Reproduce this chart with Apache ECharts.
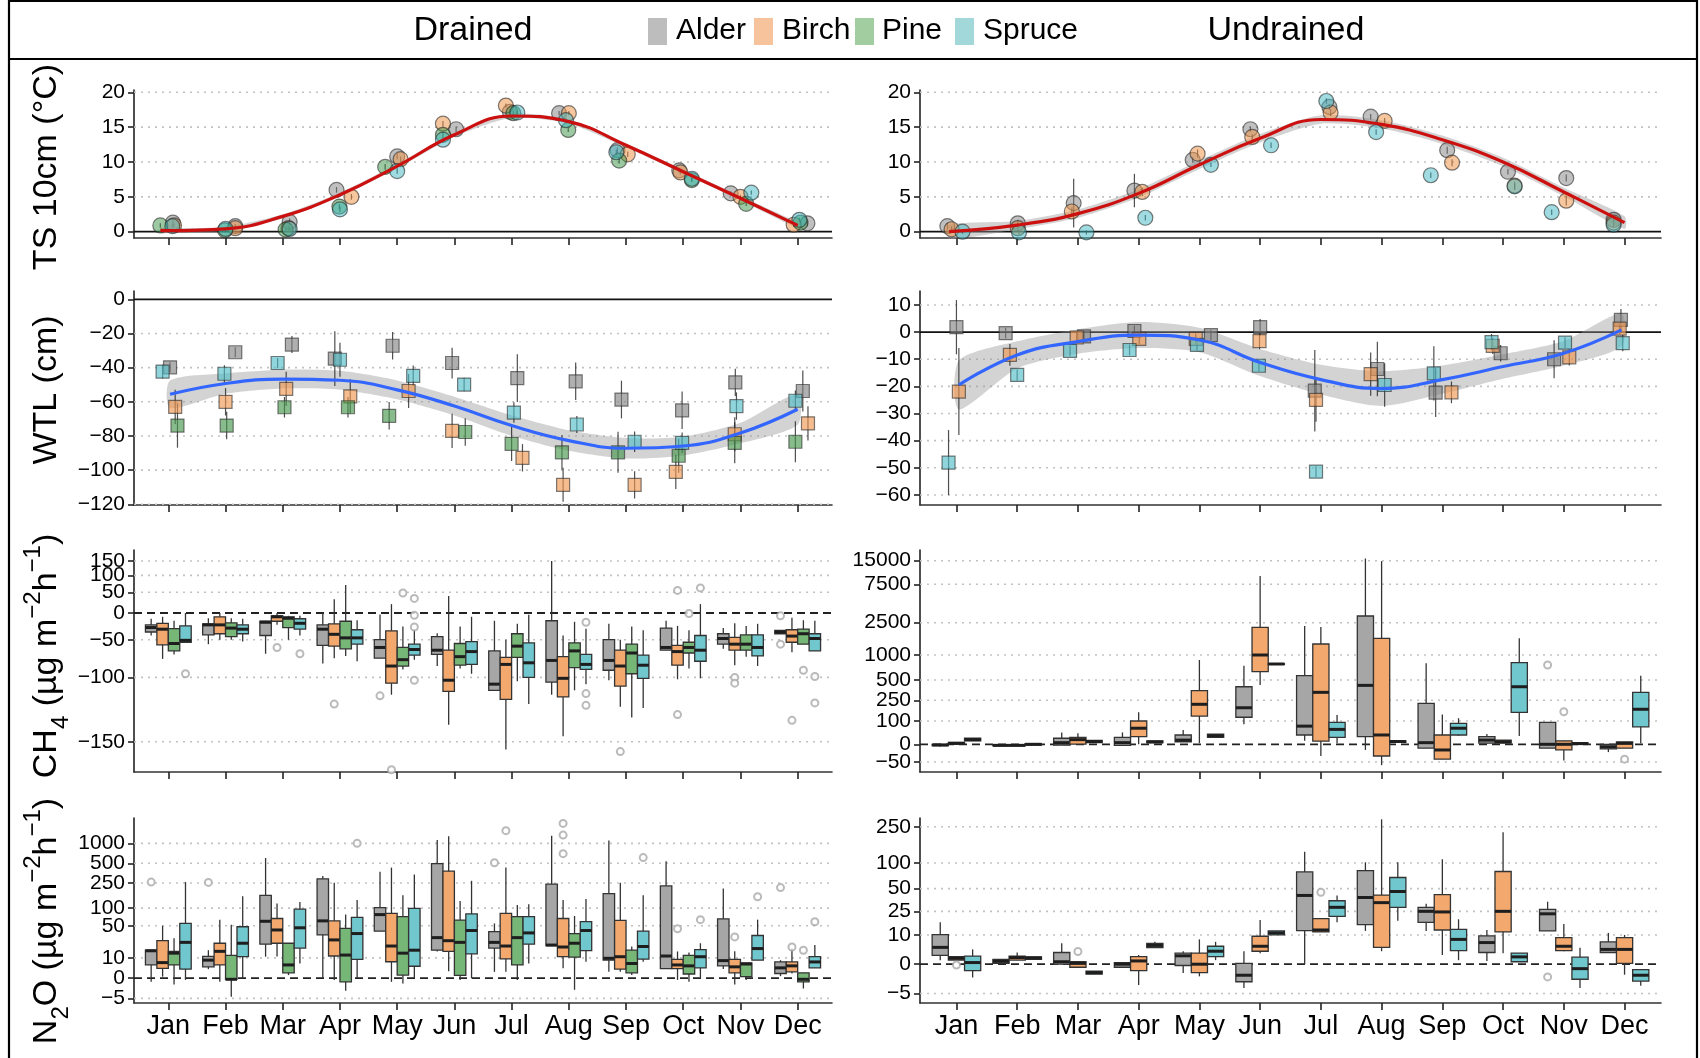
<!DOCTYPE html>
<html><head><meta charset="utf-8">
<script src="https://cdn.jsdelivr.net/npm/echarts@6/dist/echarts.min.js"></script>
<style>html,body{margin:0;padding:0;background:#fff}#c{width:1700px;height:1058px}</style>
</head><body><div id="c"></div><script>
// ---------------- DATA ----------------
const MONTHS = ['Jan','Feb','Mar','Apr','May','Jun','Jul','Aug','Sep','Oct','Nov','Dec'];
const MONTH_POS = [1,2,3,4,5,6,7,8,9,10,11,12];

// tick labels per panel
const TS_TICKS = [0,5,10,15,20];
const WTLD_TICKS = [0,-20,-40,-60,-80,-100,-120];
const WTLU_TICKS = [10,0,-10,-20,-30,-40,-50,-60];
const CH4D_TICKS = [150,100,50,0,-50,-100,-150];
const CH4U_TICKS = [15000,7500,2500,1000,500,250,100,0,-50];
const N2OD_TICKS = [1000,500,250,100,50,10,0,-5];
const N2OU_TICKS = [250,100,50,25,10,0,-5];

// Soil temperature 10 cm, drained: [decimal month, °C]
const tsD_Alder  = [[1.08,1.3],[2.17,0.8],[3.12,1.4],[3.94,6.0],[5.0,10.8],[6.03,14.7],[6.97,17.2],[7.83,17.0],[8.85,11.7],[9.93,8.8],[10.83,5.5],[12.17,1.2]];
const tsD_Birch  = [[1.1,0.9],[2.17,0.5],[3.1,0.5],[4.2,5.0],[5.06,10.4],[5.8,15.5],[6.9,18.1],[8.0,17.0],[9.03,11.1],[9.95,8.5],[11.0,5.0],[11.93,1.0]];
const tsD_Pine   = [[0.86,0.9],[1.99,0.2],[3.05,0.3],[3.99,3.6],[4.79,9.3],[5.8,13.9],[7.03,17.0],[7.99,14.6],[8.88,10.2],[10.15,7.4],[11.1,4.0],[12.05,1.3]];
const tsD_Spruce = [[1.07,0.8],[2.0,0.4],[3.12,0.4],[4.0,3.2],[5.0,8.7],[5.8,13.2],[7.1,17.1],[7.95,16.0],[8.83,11.4],[10.15,7.6],[11.19,5.6],[12.03,1.7]];
const tsD_errAlder  = [0.4,0.3,0.5,0.4,0.4,0.4,0.3,0.3,0.4,0.3,0.3,0.3];
const tsD_errBirch  = [0.3,0.3,0.3,0.4,0.4,0.4,0.3,0.3,0.4,0.3,0.3,0.3];
const tsD_errPine   = [0.3,0.3,0.3,0.4,0.4,0.4,0.3,0.3,0.4,0.3,0.3,0.3];
const tsD_errSpruce = [0.3,0.3,0.3,0.4,0.4,0.4,0.3,0.3,0.4,0.3,0.3,0.3];
const tsD_fit   = [[0.86,0.2],[1,0.15],[2,0.4],[3,2.2],[4,5.3],[5,9.4],[6,13.9],[7,16.6],[8,15.8],[9,12.4],[10,8.6],[11,4.8],[12,0.9]];
const tsD_fitSE = [0.4,0.35,0.3,0.3,0.3,0.3,0.3,0.3,0.3,0.3,0.3,0.3,0.4];

// Soil temperature, undrained
const tsU_Alder  = [[0.85,0.8],[2.01,1.2],[2.93,4.1],[3.93,5.9],[4.89,10.3],[5.84,14.7],[7.14,17.9],[7.82,16.5],[9.08,11.7],[10.08,8.6],[11.04,7.7],[11.82,1.7]];
const tsU_Birch  = [[0.92,0.35],[2.01,0.5],[2.9,2.9],[4.06,5.7],[4.97,11.2],[5.87,13.6],[7.16,17.1],[8.05,15.9],[9.16,9.9],[10.19,6.6],[11.04,4.45],[11.82,1.3]];
const tsU_Spruce = [[1.1,0.0],[2.03,-0.1],[3.14,-0.1],[4.11,2.0],[5.19,9.6],[6.18,12.4],[7.09,18.75],[7.91,14.3],[8.81,8.1],[10.19,6.5],[10.8,2.8],[11.82,1.0]];
const tsU_errAlder  = [0.5,0.5,3.5,2.4,0.4,0.4,0.4,0.4,0.5,0.4,0.5,0.4];
const tsU_errBirch  = [0.4,0.4,0.6,0.6,0.6,0.4,0.5,0.4,0.5,0.6,0.7,0.4];
const tsU_errSpruce = [0.3,0.3,0.3,0.4,0.3,0.4,0.4,0.4,0.4,0.4,0.4,0.3];
const tsU_fit   = [[0.88,0.0],[2,0.95],[3,2.6],[4,5.5],[5,9.6],[6,13.4],[7,16.1],[8,15.4],[9,13.2],[10,10.0],[11,5.7],[12,1.3]];
const tsU_fitSE = [1.0,0.6,0.6,0.6,0.6,0.6,0.6,0.6,0.6,0.6,0.6,0.9];

// Water table level, drained: [decimal month, cm]
const wtlD_Alder  = [[1.03,-39.8],[2.17,-31],[3.16,-26.5],[3.91,-34.7],[4.92,-27.2],[5.96,-37.3],[7.1,-46.1],[8.12,-48],[8.92,-58.7],[9.98,-65],[10.91,-48.6],[12.09,-53.7]];
const wtlD_Birch  = [[1.12,-63],[2.0,-60],[3.06,-52.4],[4.18,-56.8],[5.2,-53.7],[5.96,-77],[7.19,-92.8],[7.9,-108.6],[9.15,-108.6],[9.87,-101],[10.9,-79],[12.18,-72.6]];
const wtlD_Pine   = [[1.16,-73.9],[2.02,-73.9],[3.03,-63.2],[4.14,-63.2],[4.86,-68.2],[6.19,-77.7],[7.0,-84.6],[7.88,-89.6],[8.86,-89.6],[9.92,-91.6],[10.9,-84],[11.96,-83.4]];
const wtlD_Spruce = [[0.9,-42.3],[1.98,-43.6],[2.91,-37.3],[4.0,-35.4],[5.28,-44.8],[6.17,-49.9],[7.04,-66.3],[8.14,-73.3],[9.15,-83.4],[9.98,-84],[10.93,-62.5],[11.96,-59.4]];
const wtlD_errAlder  = [3,3,5,16,8,9,14,11,11,11,8,12];
const wtlD_errBirch  = [10,8,10,10,10,10,8,10,8,10,10,10];
const wtlD_errPine   = [13,8,6,6,8,8,10,10,12,10,12,12];
const wtlD_errSpruce = [4,5,3,10,6,4,6,5,6,6,8,6];
const wtlD_fit   = [[1.03,-55.6],[2,-49.3],[3,-46.7],[4,-47.4],[5,-53],[6,-62.5],[7,-73.9],[8,-82.7],[9,-87.2],[10,-85.9],[11,-78.3],[12,-64.4]];
const wtlD_fitSE = [8,6,5.5,5.5,5.5,5.5,6,6,6,5.5,6,9];

// Water table level, undrained
const wtlU_Alder  = [[1.0,1.8],[1.81,-0.4],[3.1,-1.6],[3.93,0.4],[5.19,-1.1],[6.0,1.8],[6.9,-21.6],[7.93,-13.6],[8.89,-22.3],[9.96,-7.8],[10.84,-10],[11.94,4.5]];
const wtlU_Birch  = [[1.04,-21.9],[1.88,-8.4],[2.98,-2],[4.01,-2.5],[4.94,-2.5],[5.99,-3.3],[6.92,-25],[7.82,-15.5],[9.15,-22.2],[9.83,-5.1],[11.09,-9.3],[11.92,1.3]];
const wtlU_Spruce = [[0.87,-48.1],[2.0,-15.8],[2.87,-6.9],[3.85,-6.6],[4.96,-4.7],[5.98,-12.4],[6.92,-51.4],[8.05,-19.5],[8.86,-15.2],[9.81,-3.7],[11.02,-3.9],[11.97,-4.1]];
const wtlU_errAlder  = [10,2,2,2,2,3,15,10,9,3,7,4];
const wtlU_errBirch  = [16,4,2,2,2,3,8,8,4,3,3,2];
const wtlU_errSpruce = [12,2,2,2,2,2,2,8,10,3,2,3];
const wtlU_fit   = [[1.04,-19.5],[2,-8.4],[3,-3.5],[4,-1.1],[5,-2.9],[6,-11.2],[7,-17.5],[8,-20.8],[9,-17.5],[10,-12.7],[11,-7.8],[11.95,0.8]];
const wtlU_fitSE = [9,5,4.5,4.8,4.5,5,5.5,6.4,5.2,4.5,4.5,6];

// CH4 flux boxplots, drained: per month [min, q1, median, q3, max]
const ch4D_Alder  = [[-43,-37,-29,-24,-12],[-57,-42,-24,-22,-11],[-71,-43,-19,-17,-16],[-84,-59,-32,-24,0],[-77,-77,-62,-50,-3],[-87,-72,-66,-45,-39],[-113,-113,-107,-67,-16],[-117,-105,-80,-16,150],[-103,-92,-80,-50,-22],[-66,-66,-62,-30,-16],[-64,-57,-48,-40,-30],[-40,-40,-37,-34,-34]];
const ch4D_Birch  = [[-78,-58,-32,-21,-8],[-50,-40,-24,-8,0],[-24,-17,-8,-6,0],[-77,-60,-41,-22,32],[-117,-106,-87,-35,20],[-140,-114,-103,-66,40],[-154,-121,-85,-76,-50],[-147,-119,-101,-75,-43],[-127,-109,-87,-66,-50],[-102,-86,-68,-59,-26],[-86,-66,-57,-46,-21],[-69,-54,-44,-33,-10]];
const ch4D_Pine   = [[-72,-67,-56,-31,-16],[-50,-45,-30,-20,-11],[-50,-29,-11,-8,-6],[-74,-64,-47,-17,70],[-91,-87,-79,-62,-27],[-90,-86,-75,-56,-27],[-104,-76,-60,-40,-22],[-113,-89,-67,-55,-18],[-135,-96,-70,-57,-27],[-90,-70,-62,-54,-34],[-75,-66,-57,-42,-26],[-57,-57,-40,-32,-15]];
const ch4D_Spruce = [[-54,-54,-51,-26,0],[-53,-40,-32,-24,-12],[-43,-32,-21,-12,-6],[-81,-57,-47,-33,-15],[-79,-73,-65,-57,-33],[-96,-85,-68,-53,-8],[-125,-100,-83,-55,-4],[-107,-91,-85,-72,-31],[-128,-101,-86,-73,-34],[-101,-81,-66,-43,20],[-87,-74,-62,-42,-22],[-67,-67,-48,-40,-16]];
const ch4D_outAlder  = [[5,-118],[12,-6],[12,-57]];
const ch4D_outBirch  = [[3,-62],[4,-125],[5,-163],[9,-155],[10,55],[10,-133],[11,-100],[11,-106],[12,-137]];
const ch4D_outPine   = [[5,48],[10,-1],[12,-92]];
const ch4D_outSpruce = [[1,-96],[3,-71],[5,34],[5,-5],[5,-28],[5,-103],[8,-19],[8,-116],[8,-126],[10,62],[12,-99],[12,-124]];

// CH4 flux boxplots, undrained
const ch4U_Alder  = [[-6,-4,-2,0,2],[-4,-4,-3,-2,-1],[-2,-2,7,26,51],[-3,-3,7,30,51],[11,11,18,40,61],[86,127,196,417,786],[15,40,78,586,2347],[-16,33,434,3372,16000],[-11,-11,7,228,834],[5,5,18,33,44],[-11,-11,0,94,94],[-22,-13,-7,0,0]];
const ch4U_Birch  = [[0,1,4,8,10],[-4,-4,-3,-2,-2],[1,1,20,30,47],[0,33,69,100,163],[5,136,221,368,900],[438,666,1000,2286,10137],[-33,14,348,1511,2300],[-59,-33,40,1775,14860],[-42,-42,-16,40,148],[5,5,11,18,18],[-46,-16,0,15,15],[-11,-11,4,10,10]];
const ch4U_Spruce = [[15,15,20,26,26],[-2,-2,0,2,2],[7,7,12,17,17],[7,7,10,15,15],[30,30,37,44,44],[815,815,820,825,825],[5,30,64,94,143],[8,8,12,15,15],[36,40,69,90,120],[36,163,417,846,1775],[1,1,3,6,6],[5,75,185,348,586]];
const ch4U_outAlder = [[11,800]];
const ch4U_outBirch = [[11,167],[12,-42]];

// N2O flux boxplots, drained
const n2oD_Alder  = [[-1.2,5.7,15.5,16,16],[3.6,4.7,8.5,11,16],[10.8,22,60,160,600],[-0.1,34,61,290,320],[40,40,78,102,372],[14.9,16,30,495,1120],[2.4,18,24,39,55],[20.5,20.5,21,240,1300],[2.4,8.5,9.7,170,1100],[3.8,3.8,11.3,225,538],[3.6,5.2,8.2,66,205],[0.7,1.7,4.2,7.4,8.5]];
const n2oD_Birch  = [[0.5,4,7,26,50],[-1.2,5.7,15,23,64],[11,23,42,67,119],[-0.6,11.3,27,61,252],[-1.2,7.5,20,82,430],[2.6,15,26,380,1280],[2.4,9.3,20,82,430],[4,10.8,19,67,135],[2.4,3.6,10.8,62,252],[-0.6,3.8,5.7,9,14.9],[-2,2,4.7,9,15],[1.7,2.4,5.2,7.4,17.5]];
const n2oD_Pine   = [[-2,5.7,13.5,15,29],[-4.7,-0.4,-0.4,11.8,52],[1.1,2,5.7,23,23],[-3.5,-1.2,12,45,78],[-1.7,1.1,13.5,72,160],[-0.6,1,24,63,130],[-0.6,5.7,30,72,112],[-3.3,10.5,23,36,74],[1.1,2,6.5,16,19.5],[-1.2,1.5,5.2,11.8,14],[-0.6,0.5,6.2,6.8,6.8],[-3,-1.2,-0.4,2,2]];
const n2oD_Spruce = [[-0.6,3.6,24,55,258],[0,10.8,23,48,155],[6.5,18,46,96,125],[0,9,36,70,135],[0,5,16,99,336],[-0.1,13,41,80,270],[6.5,22,37,72,115],[7.5,15.6,41,59,140],[7.5,9.2,19.5,40,160],[-0.1,4.2,10.8,16.5,23],[8.5,8.5,17.5,33,64],[4.2,4.2,7.4,10.8,21]];
const n2oD_outAlder  = [[1,258],[2,255],[7,510],[12,212]];
const n2oD_outBirch  = [[7,1550],[8,1990],[8,1330],[8,700],[10,44],[11,31],[12,19]];
const n2oD_outPine   = [[12,16]];
const n2oD_outSpruce = [[4,1000],[9,610],[10,64],[11,152],[12,59]];

// N2O flux boxplots, undrained
const n2oU_Alder  = [[1,2.3,4.9,10.2,17],[0.2,0.2,0.7,1.2,1.2],[0,0,0.6,3.2,6.4],[-0.7,-0.7,0,0.4,0.4],[-1.9,-0.3,2.2,3,3.6],[-4.3,-3.4,-2.3,0.2,3.6],[0,12.2,41,79,134],[12,15.6,38.6,82,102],[12,17,25,28.5,32],[0.8,3.2,6.7,9.6,12.5],[12,12,23,26.7,34],[3.2,3.2,4.2,7,11]];
const n2oU_Birch  = [[1,1,1.5,1.95,1.95],[1,1,1.7,2.1,3.2],[-0.7,-0.7,0.2,0.6,0.6],[-3.9,-1.4,0.8,1.95,2.4],[-2.5,-1.8,0,3,8],[3,3.6,5.3,9.4,18.5],[11.5,11.5,12.5,19.5,19.5],[3.6,4.9,33,41.5,300],[2.4,12.5,24.5,42,110],[3,11.5,25,80,218],[3.6,3.8,5.3,8.8,16],[-2.2,0.2,4.2,8.8,10]];
const n2oU_Spruce = [[-2.7,-1.4,0.4,2.1,4.2],[1.2,1.2,1.6,1.9,1.9],[-2.1,-2.1,-1.8,-1.5,-1.5],[4.8,4.8,5.6,6.4,7],[1,1.95,3.6,5.3,7],[10,10,11,12,12],[17,21,28.5,35,41],[18,28.5,46,68,102],[1,3.8,8,12.8,19],[0.6,0.6,1.9,3,3],[-4.3,-3,-1,1.8,4.8],[-4,-3.3,-2.3,-1.2,-1.2]];
const n2oU_outAlder = [[11,-2.6]];
const n2oU_outBirch = [[1,-0.2],[3,3.5],[7,45]];

// ---------------- STYLE / SCALES ----------------
const FONT = '"Liberation Sans", Arial, Helvetica, sans-serif';
const BOX_COL = {Alder:'#a6a6a6', Birch:'#f3a96e', Pine:'#76b676', Spruce:'#70c7cd'};
const PT_COL  = {Alder:'rgba(128,128,128,0.62)', Birch:'rgba(238,146,70,0.66)', Pine:'rgba(55,145,65,0.62)', Spruce:'rgba(60,182,192,0.62)'};
const SQ_COL  = {Alder:'rgba(128,128,128,0.78)', Birch:'rgba(240,150,80,0.8)', Pine:'rgba(70,150,75,0.8)', Spruce:'rgba(80,190,198,0.8)'};
const LEG_COL = {Alder:'#bdbdbd', Birch:'#f6c39d', Pine:'#a2cda1', Spruce:'#a2d8da'};

const tLin  = v => v;
const tCH4D = v => Math.log(v + 200);
const tN2O  = v => Math.log(v + 10);
// piecewise axis scale for the undrained CH4 panel (tick value -> axis unit)
const CH4U_KV = [-50,0,100,250,500,1000,2500,7500,15000];
const CH4U_KP = [10,27.7,51,71.7,92,117,149.3,187.7,211.3];
function tCH4U(v){
  const K = CH4U_KV, P = CH4U_KP;
  if (v <= K[0]) return P[0] + (v - K[0]) * (P[1]-P[0])/(K[1]-K[0]);
  if (v >= K[K.length-1]) return P[P.length-1] + 34*Math.log(v/K[K.length-1]);
  for (let i=0;i<K.length-1;i++){
    if (v <= K[i+1]) return P[i] + (v-K[i])*(P[i+1]-P[i])/(K[i+1]-K[i]);
  }
}

const G = [
  {left:134, top:90,  width:698, height:148},
  {left:920, top:90,  width:741, height:148},
  {left:134, top:291, width:698, height:214},
  {left:920, top:291, width:741, height:214},
  {left:134, top:550, width:698, height:222},
  {left:920, top:550, width:741, height:222},
  {left:134, top:818, width:698, height:185},
  {left:920, top:818, width:741, height:185}
];
const Y = [
  {T:tLin,  min:-0.904,  max:20.33, ticks:TS_TICKS,   dash:false},
  {T:tLin,  min:-0.904,  max:20.33, ticks:TS_TICKS,   dash:false},
  {T:tLin,  min:-120.43, max:4.86,  ticks:WTLD_TICKS, dash:false},
  {T:tLin,  min:-63.71,  max:15.14, ticks:WTLU_TICKS, dash:false},
  {T:tCH4D, min:3.5868,  max:5.9764,ticks:CH4D_TICKS, dash:true},
  {T:tCH4U, min:0,       max:222,   ticks:CH4U_TICKS, dash:true},
  {T:tN2O,  min:1.4499,  max:7.7855,ticks:N2OD_TICKS, dash:true},
  {T:tN2O,  min:1.3832,  max:5.767, ticks:N2OU_TICKS, dash:true}
];
const fmt = t => t < 0 ? '\u2212' + (-t) : String(t);

const grids = G.map(g => Object.assign({outerBoundsMode:'none', containLabel:false}, g));
const xAxes = G.map((g, gi) => ({
  gridIndex: gi, type:'value', min:0.4, max:12.6,
  axisLine:{show:true, onZero:false, lineStyle:{color:'#333', width:1.6}},
  axisTick:{show:true, customValues:MONTH_POS, length:7, lineStyle:{color:'#222', width:1.6}},
  axisLabel:{show: gi >= 6, customValues:MONTH_POS, formatter:v => MONTHS[Math.round(v)-1], hideOverlap:false,
    fontSize:27, color:'#000', margin:10, fontFamily:FONT},
  splitLine:{show:false}
}));
const yAxes = Y.map((y, gi) => ({
  gridIndex: gi, type:'value', min:y.min, max:y.max,
  axisLine:{show:true, onZero:false, lineStyle:{color:'#222', width:1.6}},
  axisTick:{show:true, customValues:y.ticks.map(y.T), length:6, lineStyle:{color:'#222', width:1.6}},
  axisLabel:{show:false},
  splitLine:{show:false}
}));

// ---------------- SERIES ----------------
const series = [];
function hLines(gi, vals, T, style, z){
  series.push({type:'custom', xAxisIndex:gi, yAxisIndex:gi, z:z, silent:true,
    data: vals.map(v => [1, T(v)]), encode:{x:0, y:1},
    renderItem:(params, api) => {
      const cs = params.coordSys;
      const yy = api.coord([1, api.value(1)])[1];
      return {type:'line', shape:{x1:cs.x, y1:yy, x2:cs.x+cs.width, y2:yy}, style:style};
    }});
}
// y tick labels (drawn through the axis scale, every one shown like the reference)
function yLabels(gi, ticks, T){
  series.push({type:'custom', xAxisIndex:gi, yAxisIndex:gi, z:9, silent:true,
    data: ticks.map(v => [1, T(v), v]), encode:{x:0, y:1},
    renderItem:(params, api) => {
      const cs = params.coordSys;
      const yy = api.coord([1, api.value(1)])[1];
      return {type:'text', x:cs.x - 9, y:yy,
        style:{text:fmt(api.value(2)), fill:'#000', fontSize:21, fontFamily:FONT, align:'right', verticalAlign:'middle'}};
    }});
}
Y.forEach((y, gi) => {
  hLines(gi, y.ticks.filter(v => v !== 0), y.T, {stroke:'#c2c2c2', lineWidth:1.6, lineDash:[2,5]}, 1);
  hLines(gi, [0], y.T, y.dash ? {stroke:'#222', lineWidth:1.8, lineDash:[8,5]} : {stroke:'#111', lineWidth:1.7}, 2);
  yLabels(gi, y.ticks, y.T);
});

function band(gi, fit, se){
  series.push({type:'custom', xAxisIndex:gi, yAxisIndex:gi, z:3, silent:true,
    data:[[fit[0][0], fit[0][1]]], encode:{x:0, y:1},
    renderItem:(params, api) => {
      const up = fit.map((p,i) => api.coord([p[0], p[1] + se[i]]));
      const lo = fit.map((p,i) => api.coord([p[0], p[1] - se[i]])).reverse();
      return {type:'polygon', shape:{points: up.concat(lo), smooth:0.25}, style:{fill:'rgba(150,150,150,0.42)'}};
    }});
}
function fitLine(gi, fit, color){
  series.push({type:'line', xAxisIndex:gi, yAxisIndex:gi, z:8, data:fit, smooth:0.45,
    symbol:'none', lineStyle:{color:color, width:3.2}, silent:true});
}
function errBars(gi, pts, err){
  series.push({type:'custom', xAxisIndex:gi, yAxisIndex:gi, z:4, silent:true,
    data: pts.map((p,i) => [p[0], p[1], err[i]]), encode:{x:0, y:1},
    renderItem:(params, api) => {
      const x = api.value(0), y = api.value(1), e = api.value(2);
      const a = api.coord([x, y-e]), b = api.coord([x, y+e]);
      return {type:'line', shape:{x1:a[0], y1:a[1], x2:b[0], y2:b[1]}, style:{stroke:'rgba(35,35,35,0.8)', lineWidth:1.2}};
    }});
}
function points(gi, pts, sp, symbol){
  series.push({type:'scatter', xAxisIndex:gi, yAxisIndex:gi, z:5, data:pts,
    symbol: symbol, symbolSize: symbol === 'rect' ? 13 : 15,
    itemStyle:{color: symbol === 'rect' ? SQ_COL[sp] : PT_COL[sp], borderColor:'rgba(40,40,40,0.75)', borderWidth:1.2}});
}
function boxes(gi, arr, off, bw, sp, T){
  series.push({type:'custom', xAxisIndex:gi, yAxisIndex:gi, z:5,
    data: arr.map((b,i) => [i+1+off, T(b[0]), T(b[1]), T(b[2]), T(b[3]), T(b[4])]),
    encode:{x:0, y:[1,2,3,4,5]},
    renderItem:(params, api) => {
      const x = api.value(0);
      const w = api.size([bw, 0])[0];
      const c = k => api.coord([x, api.value(k)]);
      const pMin = c(1), pQ1 = c(2), pMed = c(3), pQ3 = c(4), pMax = c(5);
      const cx = pMin[0];
      return {type:'group', children:[
        {type:'line', shape:{x1:cx, y1:pMin[1], x2:cx, y2:pMax[1]}, style:{stroke:'#333', lineWidth:1.3}},
        {type:'rect', shape:{x:cx-w/2, y:pQ3[1], width:w, height:Math.max(pQ1[1]-pQ3[1], 0.6)},
          style:{fill:BOX_COL[sp], stroke:'#333', lineWidth:1.3}},
        {type:'line', shape:{x1:cx-w/2, y1:pMed[1], x2:cx+w/2, y2:pMed[1]}, style:{stroke:'#1e1e1e', lineWidth:3}}
      ]};
    }});
}
function outliers(gi, pts, off, T){
  series.push({type:'scatter', xAxisIndex:gi, yAxisIndex:gi, z:6, symbol:'emptyCircle', symbolSize:7,
    itemStyle:{color:'#a9a9a9', borderWidth:1.2}, data: pts.map(p => [p[0]+off, T(p[1])])});
}

// TS panels
band(0, tsD_fit, tsD_fitSE);
[['Alder',tsD_Alder,tsD_errAlder],['Birch',tsD_Birch,tsD_errBirch],['Pine',tsD_Pine,tsD_errPine],['Spruce',tsD_Spruce,tsD_errSpruce]]
  .forEach(([sp,p,e]) => { errBars(0,p,e); points(0,p,sp,'circle'); });
fitLine(0, tsD_fit, '#cc1010');
band(1, tsU_fit, tsU_fitSE);
[['Alder',tsU_Alder,tsU_errAlder],['Birch',tsU_Birch,tsU_errBirch],['Spruce',tsU_Spruce,tsU_errSpruce]]
  .forEach(([sp,p,e]) => { errBars(1,p,e); points(1,p,sp,'circle'); });
fitLine(1, tsU_fit, '#cc1010');

// WTL panels
band(2, wtlD_fit, wtlD_fitSE);
[['Alder',wtlD_Alder,wtlD_errAlder],['Birch',wtlD_Birch,wtlD_errBirch],['Pine',wtlD_Pine,wtlD_errPine],['Spruce',wtlD_Spruce,wtlD_errSpruce]]
  .forEach(([sp,p,e]) => { errBars(2,p,e); points(2,p,sp,'rect'); });
fitLine(2, wtlD_fit, '#3366ff');
band(3, wtlU_fit, wtlU_fitSE);
[['Alder',wtlU_Alder,wtlU_errAlder],['Birch',wtlU_Birch,wtlU_errBirch],['Spruce',wtlU_Spruce,wtlU_errSpruce]]
  .forEach(([sp,p,e]) => { errBars(3,p,e); points(3,p,sp,'rect'); });
fitLine(3, wtlU_fit, '#3366ff');

// Flux boxplots
const offD = [-0.3,-0.1,0.1,0.3], bwD = 0.2;
const offU = [-0.8/3, 0, 0.8/3], bwU = 0.8/3;
[['Alder',ch4D_Alder,ch4D_outAlder],['Birch',ch4D_Birch,ch4D_outBirch],['Pine',ch4D_Pine,ch4D_outPine],['Spruce',ch4D_Spruce,ch4D_outSpruce]]
  .forEach(([sp,b,o],i) => { boxes(4,b,offD[i],bwD,sp,tCH4D); outliers(4,o,offD[i],tCH4D); });
[['Alder',ch4U_Alder,ch4U_outAlder],['Birch',ch4U_Birch,ch4U_outBirch],['Spruce',ch4U_Spruce,[]]]
  .forEach(([sp,b,o],i) => { boxes(5,b,offU[i],bwU,sp,tCH4U); outliers(5,o,offU[i],tCH4U); });
[['Alder',n2oD_Alder,n2oD_outAlder],['Birch',n2oD_Birch,n2oD_outBirch],['Pine',n2oD_Pine,n2oD_outPine],['Spruce',n2oD_Spruce,n2oD_outSpruce]]
  .forEach(([sp,b,o],i) => { boxes(6,b,offD[i],bwD,sp,tN2O); outliers(6,o,offD[i],tN2O); });
[['Alder',n2oU_Alder,n2oU_outAlder],['Birch',n2oU_Birch,n2oU_outBirch],['Spruce',n2oU_Spruce,[]]]
  .forEach(([sp,b,o],i) => { boxes(7,b,offU[i],bwU,sp,tN2O); outliers(7,o,offU[i],tN2O); });

// ---------------- GRAPHIC (frame, header, legend, axis titles) ----------------
const RICH = {
  a:{fontSize:34, lineHeight:52, fontFamily:FONT, color:'#000'},
  s:{fontSize:24, lineHeight:30, fontFamily:FONT, color:'#000', verticalAlign:'bottom'},
  p:{fontSize:24, lineHeight:24, fontFamily:FONT, color:'#000', verticalAlign:'top'}
};
function vTitle(text, cy){
  return {type:'text', x:47, y:cy, rotation:Math.PI/2, silent:true,
    style:{text:text, rich:RICH, fontSize:34, fontFamily:FONT, fill:'#000', align:'center', verticalAlign:'middle'}};
}
const graphic = [
  {type:'rect', silent:true, shape:{x:9, y:1, width:1688, height:1090}, style:{fill:'none', stroke:'#000', lineWidth:2.2}},
  {type:'line', silent:true, shape:{x1:9, y1:59, x2:1697, y2:59}, style:{stroke:'#000', lineWidth:2}},
  {type:'text', x:473, y:31, silent:true, style:{text:'Drained', fontSize:34, fontFamily:FONT, fill:'#000', align:'center', verticalAlign:'middle'}},
  {type:'text', x:1286, y:31, silent:true, style:{text:'Undrained', fontSize:34, fontFamily:FONT, fill:'#000', align:'center', verticalAlign:'middle'}},
  vTitle('{a|TS 10cm (°C)}', 167),
  vTitle('{a|WTL (cm)}', 390),
  vTitle('{a|CH}{s|4}{a| (µg m}{p|\u22122}{a|h}{p|\u22121}{a|)}', 656),
  vTitle('{a|N}{s|2}{a|O (µg m}{p|\u22122}{a|h}{p|\u22121}{a|)}', 921)
];
const LEG = [['Alder',648,676],['Birch',754,782],['Pine',855,882],['Spruce',955,983]];
LEG.forEach(([sp, bx, tx]) => {
  graphic.push({type:'rect', silent:true, shape:{x:bx, y:18, width:19, height:27}, style:{fill:LEG_COL[sp]}});
  graphic.push({type:'text', x:tx, y:31, silent:true, style:{text:sp, fontSize:30, fontFamily:FONT, fill:'#000', align:'left', verticalAlign:'middle'}});
});

const chart = echarts.init(document.getElementById('c'), null, {renderer:'canvas', width:1700, height:1058});
chart.setOption({
  animation:false,
  backgroundColor:'#fff',
  grid: grids,
  xAxis: xAxes,
  yAxis: yAxes,
  series: series,
  graphic: graphic
});
</script></body></html>
